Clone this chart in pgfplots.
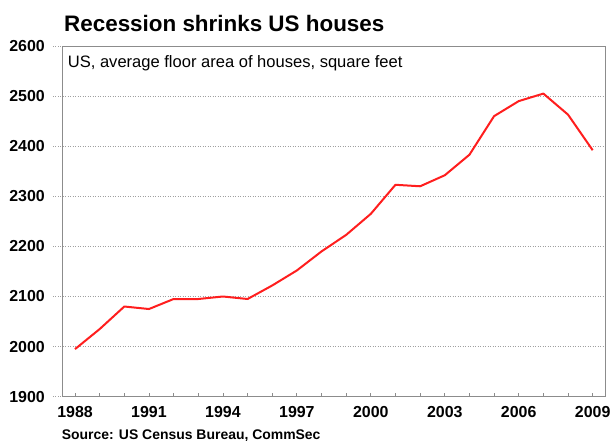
\documentclass[border=0pt]{standalone}
\usepackage{pgfplots}
\pgfplotsset{compat=1.18}
\usepackage{fontspec}
\setmainfont{Liberation Sans}
\definecolor{linered}{RGB}{255,30,30}
\definecolor{framegray}{RGB}{140,140,140}
\definecolor{gridgray}{RGB}{160,160,160}
\pgfplotstableread{
year value
1988 1995
1989 2035
1990 2080
1991 2075
1992 2095
1993 2095
1994 2100
1995 2095
1996 2122
1997 2152
1998 2190
1999 2223
2000 2265
2001 2323
2002 2320
2003 2342
2004 2383
2005 2460
2006 2490
2007 2505
2008 2463
2009 2392
}\housedata
\begin{document}
\begin{tikzpicture}
\useasboundingbox (0,0) rectangle (610bp,441bp);
\begin{axis}[
  at={(62.7bp,44.3bp)}, anchor=south west,
  width=542.3bp, height=350.7bp, scale only axis,
  xmin=1987.5, xmax=2009.5, ymin=1900, ymax=2600,
  xtick={1988,1991,...,2009},
  xticklabels={1988,1991,1994,1997,2000,2003,2006,2009},
  minor xtick={1988,1989,...,2009},
  ytick={1900,2000,2100,2200,2300,2400,2500,2600},
  yticklabels={1900,2000,2100,2200,2300,2400,2500,2600},
  xtick pos=left, ytick pos=left,
  tick align=inside,
  major tick length=9.7bp,
  minor tick length=4bp,
  major x tick style={draw=none},
  minor x tick style={framegray, line width=0.8bp},
  y tick style={gridgray, line width=0.7bp, dash pattern=on 1bp off 1.5bp, xshift=-9.7bp},
  ymajorgrids,
  grid style={gridgray, dash pattern=on 1bp off 1.5bp, line width=0.7bp},
  axis line style={framegray, line width=0.8bp},
  ticklabel style={font=\bfseries\fontsize{16}{16}\selectfont},
  xticklabel style={anchor=base, inner sep=0pt, yshift=-20.6bp},
  yticklabel style={anchor=east, inner sep=0pt, xshift=-17.7bp},
  clip=false,
]
\addplot[linered, line width=2bp, line join=round] table[x=year, y=value] {\housedata};
\end{axis}
\node[anchor=base west, inner sep=0pt, font=\bfseries\fontsize{22.5}{26}\selectfont] at (64bp,409bp) {Recession shrinks US houses};
\node[anchor=base west, inner sep=0pt, font=\fontsize{16.6}{20}\selectfont] at (67.7bp,373.7bp) {US, average floor area of houses, square feet};
\node[anchor=base west, inner sep=0pt, font=\bfseries\fontsize{14}{16}\selectfont] at (61.7bp,2bp) {Source: US Census Bureau, CommSec};
\end{tikzpicture}
\end{document}
